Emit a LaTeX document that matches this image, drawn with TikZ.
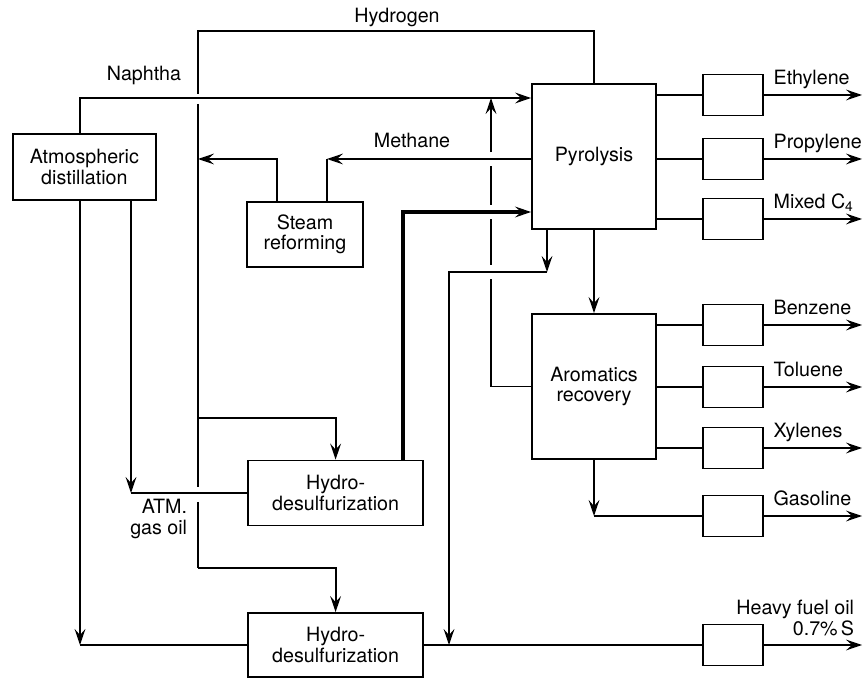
\documentclass[tikz,border=0pt]{standalone}
\usepackage{fontspec}
\setmainfont{TeX Gyre Heros}
\usetikzlibrary{arrows.meta, positioning}

\begin{document}
\begin{tikzpicture}[
    line width=1.3pt,
    >={Stealth[length=4mm, width=2.7mm, inset=1.5mm]},
    every node/.style={font=\fontsize{14}{14.5}\selectfont},
    box/.style={rectangle, draw=black, line width=1.3pt, inner sep=0pt, align=center},
    prod/.style={box, minimum width=1.5cm, minimum height=1.025cm},
    lbl/.style={inner sep=0pt, anchor=base west}
]
    \useasboundingbox (0,0) rectangle (21.575,16.975);

    % Process units
    \node[box, minimum width=3.575cm, minimum height=1.65cm] (atm) at (2.11,12.8) {Atmospheric\\distillation};
    \node[box, minimum width=2.9cm, minimum height=1.625cm] (steam) at (7.625,11.1125) {Steam\\reforming};
    \node[box, minimum width=3.1cm, minimum height=3.625cm] (pyro) at (14.85,13.0625) {Pyrolysis};
    \node[box, minimum width=3.1cm, minimum height=3.625cm] (arom) at (14.85,7.3125) {Aromatics\\recovery};
    \node[box, minimum width=4.375cm, minimum height=1.625cm] (hds1) at (8.39,4.65) {Hydro-\\desulfurization};
    \node[box, minimum width=4.375cm, minimum height=1.6cm] (hds2) at (8.39,0.85) {Hydro-\\desulfurization};

    % Product boxes
    \node[prod] (eth) at (18.325,14.6) {};
    \node[prod] (pro) at (18.325,13.0) {};
    \node[prod] (mix) at (18.325,11.5) {};
    \node[prod] (ben) at (18.325,8.85) {};
    \node[prod] (tol) at (18.325,7.3) {};
    \node[prod] (xyl) at (18.325,5.775) {};
    \node[prod] (gas) at (18.325,4.075) {};
    \node[prod] (hfo) at (18.325,0.85) {};

    % Stream labels
    \node (hyd-lbl) at (9.925,16.55) {Hydrogen};
    \node (nap-lbl) at (3.6,15.08) {Naphtha};
    \node (met-lbl) at (10.3,13.475) {Methane};
    \node[align=right, anchor=east, inner sep=0pt] (ago-lbl) at (4.7,4.0) {ATM.\\gas oil};
    \node[align=right, anchor=east, inner sep=0pt] (hfo-lbl) at (21.375,1.525) {Heavy fuel oil\\0.7\%\,S};
    \foreach \b/\t in {eth/Ethylene, pro/Propylene, mix/Mixed C\textsubscript{4}, ben/Benzene, tol/Toluene, xyl/Xylenes, gas/Gasoline}
        \node[lbl] (\b-lbl) at ([xshift=0.22cm, yshift=0.26cm]\b.east) {\t};

    % Corner and crossing points
    \coordinate (nap) at (2.0,14.525);
    \coordinate (endx) at (21.55,0);
    \coordinate (hTop) at (4.95,16.2);
    \coordinate (hN1) at (4.95,14.62);
    \coordinate (hN2) at (4.95,14.38);
    \coordinate (hA1) at (4.95,4.8);
    \coordinate (hA2) at (4.95,4.43);
    \coordinate (hBr) at (4.95,6.525);
    \coordinate (hLow) at (4.95,2.775);
    \coordinate (hMeth) at (4.95,13.0);
    \coordinate (sIn) at (6.925,13.0);
    \coordinate (meth) at (8.175,13.0);
    \coordinate (hp) at (10.075,11.675);
    \coordinate (pfo) at (13.675,10.175);
    \coordinate (pfo2) at (11.225,10.175);
    \coordinate (ago) at (3.275,4.65);
    \coordinate (lr) at (2.0,0.85);
    \coordinate (rc1) at (12.275,10.0);
    \coordinate (rc2) at (12.275,10.35);
    \coordinate (rc3) at (12.275,11.5);
    \coordinate (rc4) at (12.275,11.85);
    \coordinate (rc5) at (12.275,12.83);
    \coordinate (rc6) at (12.275,13.17);

    % Naphtha and hydrogen
    \draw[->] (atm.north -| nap) -- (nap) -- (pyro.west |- nap);
    \draw (pyro.north) |- (hTop) -- (hN1);
    \draw (hN2) -- (hA1);
    \draw (hA2) -- (hLow);
    \draw[->] (hBr) -| (hds1.north);
    \draw[->] (hLow) -| (hds2.north);

    % Methane and steam reforming
    \draw[->] (pyro.west |- meth) -- (meth);
    \draw (meth) -- (steam.north -| meth);
    \draw[->] (steam.north -| sIn) -- (sIn) -- (hMeth);

    % Gas oil feeds
    \draw[->] (atm.south -| ago) -- (ago);
    \draw (ago) -- (hds1.west);
    \draw[->] (atm.south -| lr) -- (lr);
    \draw (lr) -- (hds2.west);
    \draw[->, line width=2.2pt] (hds1.north -| hp) -- (hp) -- (pyro.west |- hp);

    % Pyrolysis bottoms
    \draw[->] (pyro.south -| pfo) -- (pfo);
    \draw[->] (pfo) -- (pfo2) -- (hds2.east -| pfo2);
    \draw[->] (pyro.south) -- (arom.north);

    % Recycle from aromatics
    \draw (arom.west) -| (rc1);
    \draw (rc2) -- (rc3);
    \draw (rc4) -- (rc5);
    \draw[->] (rc6) -- (rc6 |- nap);

    % Products
    \foreach \b in {eth,pro,mix}
        \draw (pyro.east |- \b) -- (\b.west);
    \foreach \b in {ben,tol,xyl}
        \draw (arom.east |- \b) -- (\b.west);
    \draw[->] (arom.south) -- (arom.south |- gas);
    \draw (arom.south |- gas) -- (gas.west);
    \draw (hds2.east) -- (hfo.west);
    \foreach \b in {eth,pro,mix,ben,tol,xyl,gas,hfo}
        \draw[->] (\b.east) -- (\b.east -| endx);
\end{tikzpicture}
\end{document}
